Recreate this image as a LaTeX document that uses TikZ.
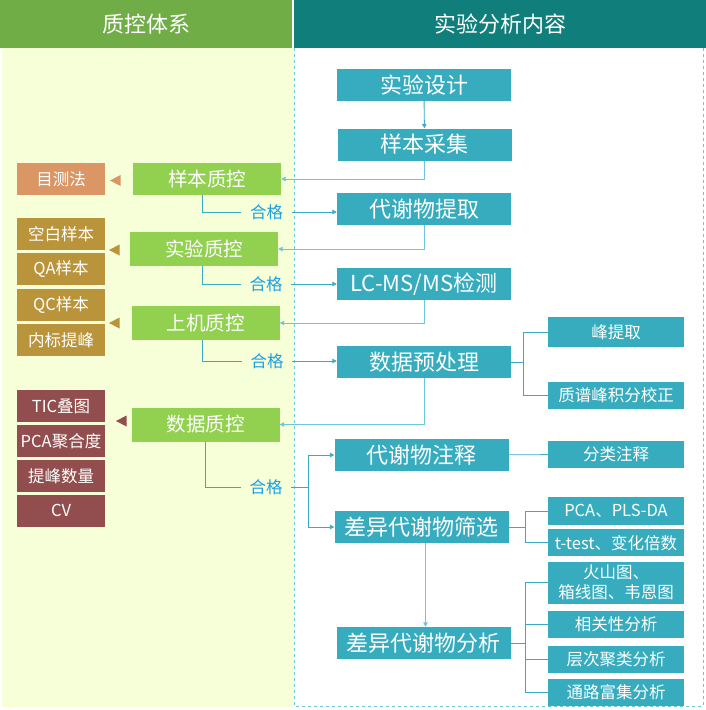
\documentclass[tikz,border=0pt]{standalone}
\usepackage{fontspec}
\setmainfont{Noto Sans CJK SC}
\usepackage{tikz}
\usetikzlibrary{arrows.meta,positioning,calc}
\definecolor{hdgreen}   {RGB}{112,173,71}
\definecolor{hdteal}    {RGB}{16,126,122}
\definecolor{panelbg}   {RGB}{246,255,216}
\definecolor{qcgreen}   {RGB}{146,208,80}
\definecolor{mainteal}  {RGB}{54,172,190}
\definecolor{obsorange} {RGB}{218,150,100}
\definecolor{smpgold}   {RGB}{185,148,58}
\definecolor{datmaroon} {RGB}{146,78,78}
\definecolor{lndark}    {RGB}{58,170,195}
\definecolor{lnlight}   {RGB}{110,198,218}
\definecolor{passblue}  {RGB}{30,160,225}
\newcommand{\fsz}[1]{\fontsize{#1}{#1}\selectfont}
\tikzset{
  anybox/.style ={inner sep=0pt, align=center, text=white, minimum height=#1},
  anybox/.default=32pt,
  hdbox/.style  ={anybox=48pt, font=\fsz{22}},
  mainbox/.style={anybox, fill=mainteal, minimum width=174pt, font=\fsz{22}},
  subbox/.style ={anybox=#1, fill=mainteal, minimum width=136pt,
                  font=\fontsize{16.5}{20}\selectfont},
  subbox/.default=27pt,
  qcbox/.style  ={anybox=#1, fill=qcgreen, minimum width=148pt, font=\fsz{19.5}},
  qcbox/.default=32pt,
  leafbox/.style={anybox, minimum width=88pt, font=\fsz{16.5}},
  passlbl/.style={inner xsep=8.5pt, inner ysep=0pt, text=passblue, font=\fsz{16.5}},
  ln/.style     ={line width=0.9pt, draw=lndark},
  arr/.style    ={ln, -{Triangle[length=4.5pt,width=4.5pt]}},
  larr/.style   ={arr, draw=lnlight},
  bordln/.style ={line width=0.9pt, draw=lnlight, dash pattern=on 3pt off 3pt},
}

\begin{document}
\begin{tikzpicture}[x=1pt,y=-1pt]
  \useasboundingbox (0,0) rectangle (706,710);
  % panels
  \fill[panelbg] (2,48) rectangle (294,707);
  \node[hdbox, fill=hdgreen, minimum width=292pt] (hdqc) at (146,24) {质控体系};
  \node[hdbox, fill=hdteal, minimum width=412pt] (hdexp) at (500,24) {实验分析内容};
  \draw[bordln] (294,48) -- (294,706) -- (703,706) -- (703,48);

  % experiment flow
  \node[mainbox] (design)  at (424,85)      {实验设计};
  \node[mainbox] (collect) at (424.5,144.5) {样本采集};
  \node[mainbox] (extract) at (424,209)     {代谢物提取};
  \node[mainbox] (lcms)    at (424,284)     {LC-MS/MS检测};
  \node[mainbox] (preproc) at (424,362)     {数据预处理};
  \node[mainbox] (annot)   at (421.5,455)   {代谢物注释};
  \node[mainbox] (screen)  at (421.5,527)   {差异代谢物筛选};
  \node[mainbox] (diffana) at (423.5,643)   {差异代谢物分析};

  \node[subbox=30pt] (peak)     at (616,332)   {峰提取};
  \node[subbox]      (integ)    at (616,395)   {质谱峰积分校正};
  \node[subbox]      (classann) at (616,454.5) {分类注释};
  \node[subbox=28pt] (pcabox)   at (616,511)   {PCA、PLS-DA};
  \node[subbox, below=4pt of pcabox]       (ttest)   {t-test、变化倍数};
  \node[subbox=42pt, below=5pt of ttest]   (volcano) {火山图、\\箱线图、韦恩图};
  \node[subbox, below=7pt of volcano]      (corr)    {相关性分析};
  \node[subbox, below=7pt of corr]         (hclust)  {层次聚类分析};
  \node[subbox, below=6pt of hclust]       (pathway) {通路富集分析};

  % quality control
  \node[qcbox]      (sampqc) at (207,179)     {样本质控};
  \node[qcbox=34pt] (expqc)  at (204,249)     {实验质控};
  \node[qcbox=34pt] (instqc) at (205.5,323)   {上机质控};
  \node[qcbox=34pt] (dataqc) at (205.5,424.5) {数据质控};

  \node[leafbox, fill=obsorange] (visual) at (61,179) {目测法};
  \node[leafbox, fill=smpgold]   (blank)  at (61,234) {空白样本};
  \node[leafbox, fill=smpgold, below=3pt of blank] (qasmp) {QA样本};
  \node[leafbox, fill=smpgold, below=3pt of qasmp] (qcsmp) {QC样本};
  \node[leafbox, fill=smpgold, below=3pt of qcsmp] (istd)  {内标提峰};
  \node[leafbox, fill=datmaroon] (tic)    at (61,406) {TIC叠图};
  \node[leafbox, fill=datmaroon, below=2.5pt of tic]    (pcaagg)  {PCA聚合度};
  \node[leafbox, fill=datmaroon, below=2.5pt of pcaagg] (peaknum) {提峰数量};
  \node[leafbox, fill=datmaroon, below=2.5pt of peaknum] (cvbox)  {CV};

  \foreach \ty/\tx/\tc in {180.5/110/obsorange, 250/109/smpgold,
                           323/109/smpgold, 421/116/datmaroon}
    \fill[\tc] (\tx,\ty) -- ++(10.5,-5.5) -- ++(0,11) -- cycle;

  \node[passlbl] (pass1) at (266.5,212) {合格};
  \node[passlbl] (pass2) at (266,284)   {合格};
  \node[passlbl] (pass3) at (267,361)   {合格};
  \node[passlbl] (pass4) at (266,487)   {合格};

  % connectors
  \draw[arr](design)--(collect);
  \draw[larr](collect.south) |- (sampqc.east);
  \draw[ln]([xshift=-5pt]sampqc.south) |- (pass1.west);
  \draw[arr](pass1.east) -- (pass1.east -| extract.west);
  \draw[larr](extract.south) |- (expqc.east);
  \draw[ln]([xshift=-2pt]expqc.south) |- (pass2.west);
  \draw[arr](pass2.east) -- (pass2.east -| lcms.west);
  \draw[larr](lcms.south) |- (instqc.east);
  \draw[ln]([xshift=-3pt]instqc.south) |- (pass3.west);
  \draw[arr](pass3.east) -- (pass3.east -| preproc.west);
  \draw[larr](preproc.south) |- (dataqc.east);
  \draw[ln](dataqc.south) |- (pass4.west);
  \draw[ln](pass4.east) -- ++(17,0) coordinate (qcfork);
  \draw[arr](qcfork) |- (annot.west);
  \draw[arr](qcfork) |- (screen.west);

  \draw[ln](preproc.east) -- ++(12.5,0) coordinate (ppfork);
  \draw[ln](ppfork) |- (peak.west);
  \draw[ln](ppfork) |- (integ.west);
  \draw[ln](annot)--(classann);
  \draw[ln](screen.east) -- ++(17,0) coordinate (scfork);
  \draw[ln](scfork) |- (pcabox.west);
  \draw[ln](scfork) |- (ttest.west);
  \draw[larr]([xshift=4pt]screen.south) -- ([xshift=4pt]screen.south |- diffana.north);
  \draw[ln](diffana.east) -- ++(15,0) coordinate (dafork);
  \foreach \leaf in {volcano,corr,hclust,pathway}
    \draw[ln](dafork) |- (\leaf.west);
\end{tikzpicture}
\end{document}
